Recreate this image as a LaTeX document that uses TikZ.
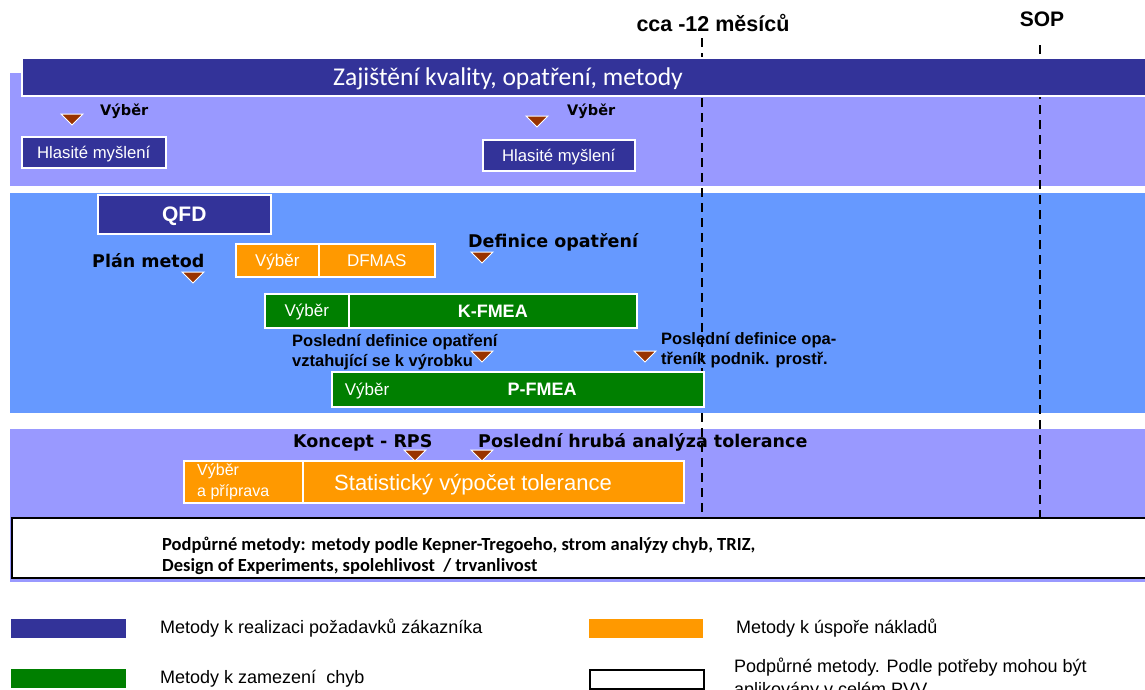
\documentclass[tikz,border=0pt]{standalone}
\usepackage{fontspec}
\setmainfont{Liberation Sans}
\newfontfamily\heavy{DejaVu Sans}
\newfontfamily\calfont{Carlito}
\definecolor{dblue}{HTML}{333399}
\definecolor{lpurple}{HTML}{9999FF}
\definecolor{lblue}{HTML}{6699FF}
\definecolor{orng}{HTML}{FF9900}
\definecolor{grn}{HTML}{007F00}
\definecolor{brwn}{HTML}{993300}
\newcommand{\fs}[1]{\fontsize{#1}{#1}\selectfont}
\tikzset{
  band/.style={draw=white, line width=1pt},
  bx/.style={draw=white, line width=1.5pt, fill=#1, inner sep=0pt, anchor=north west, text=white},
  cap/.style={text height=#1pt, text depth=0pt},
  lbl/.style={inner sep=0pt, anchor=base west, font=\heavy\bfseries\fs{17.5}},
  txt/.style={inner sep=0pt, anchor=base west, font=\bfseries\fs{16.5}, align=left},
  wtxt/.style={inner sep=0pt, text=white},
  tri/.style={fill=brwn, draw=white, line width=1pt, line join=miter},
  dl/.style={dash pattern=on 9pt off 6pt, line width=1.3pt},
  leg/.style={inner sep=0pt, anchor=base west, font=\fs{18}, align=left},
}
\newcommand{\tri}[1]{\draw[tri] (#1) ++(-11,0) -- ++(22,0) -- ++(-11,11) -- cycle;}
\begin{document}
\begin{tikzpicture}[x=1pt,y=-1pt]
\useasboundingbox (0,0) rectangle (1145,689);
\clip (0,0) rectangle (1145,689);
\fill[white] (0,0) rectangle (1145,689);
% bands
\draw[band, fill=lpurple] (9,72) rectangle (1150,186);
\draw[band, fill=lblue] (9,192) rectangle (1150,413);
\draw[band, fill=lpurple] (9,428) rectangle (1150,582);
% dashed lines
\coordinate (d1a) at (702,38); \coordinate (d1b) at (702,515);
\coordinate (d2a) at (1040,45); \coordinate (d2b) at (1040,520);
\draw[dl] (d1a) -- (d1b);
\draw[dl] (d2a) -- (d2b);
\node[inner sep=0pt, anchor=base, font=\bfseries\fs{21.5}] (cca) at (713,31) {cca -12 měsíců};
\node[inner sep=0pt, anchor=base, font=\bfseries\fs{21}] (sop) at (1042,26) {SOP};
% top band
\node[bx=dblue, minimum width=1130pt, minimum height=38pt] (top) at (21,57) {};
\node[wtxt, cap=16.5, font=\calfont\fs{25.6}] (toptxt) at (508,77) {Zajištění kvality, opatření, metody};
% top section
\coordinate (t1) at (72,114); \tri{t1}
\node[lbl, font=\heavy\bfseries\fs{14.5}] (v1) at (100,115) {Výběr};
\node[bx=dblue, cap=12, minimum width=144pt, minimum height=31pt, font=\fs{16.7}] (h1) at (21,136) {Hlasité myšlení};
\coordinate (t2) at (537,116); \tri{t2}
\node[lbl, font=\heavy\bfseries\fs{14.5}] (v2) at (567,115) {Výběr};
\node[bx=dblue, cap=12, minimum width=152pt, minimum height=31pt, font=\fs{16.7}] (h2) at (482,139) {Hlasité myšlení};
% blue section
\node[bx=dblue, cap=15, minimum width=173pt, minimum height=39pt, font=\bfseries\fs{21}] (qfd) at (97,194) {QFD};
\node[lbl] (plan) at (92,267) {Plán metod};
\coordinate (t3) at (193,272); \tri{t3}
\node[bx=orng, cap=12.2, minimum width=83pt, minimum height=33pt, font=\fs{17}] (ov) at (235,243) {Výběr};
\node[bx=orng, cap=12.2, minimum width=116pt, minimum height=33pt, font=\fs{17}] (dfm) at (318,243) {DFMAS};
\node[lbl] (defo) at (468,247) {Definice opatření};
\coordinate (t4) at (482,252); \tri{t4}
\node[bx=grn, cap=12.2, minimum width=84pt, minimum height=34pt, font=\fs{17}] (gv) at (264,293) {Výběr};
\node[bx=grn, cap=12.9, minimum width=288pt, minimum height=34pt, font=\bfseries\fs{18}] (kf) at (348,293) {K-FMEA};
\node[txt] (pd1) at (292,366) {Poslední definice opatření\\[3.5pt]vztahující se k výrobku};
\coordinate (t5) at (482,351); \tri{t5}
\coordinate (t6) at (645,351); \tri{t6}
\node[txt] (pd2) at (661,364) {Poslední definice opa-\\[3.5pt]třeník podnik. prostř.};
\node[bx=grn, minimum width=372pt, minimum height=35pt] (pf) at (331,371) {};
\node[wtxt, cap=12.2, font=\fs{17}] (pfv) at (367,389) {Výběr};
\node[wtxt, cap=12.9, font=\bfseries\fs{18}] (pft) at (542,389) {P-FMEA};
% bottom section
\node[lbl] (konc) at (293,447) {Koncept - RPS};
\node[lbl] (hrub) at (478,447) {Poslední hrubá analýza tolerance};
\node[bx=orng, minimum width=119pt, minimum height=42pt] (sv) at (183,460) {};
\node[bx=orng, minimum width=381pt, minimum height=42pt] (st) at (302,460) {};
\coordinate (t7) at (415,450); \tri{t7}
\coordinate (t8) at (482,450); \tri{t8}
\node[inner sep=0pt, text=white, anchor=base west, align=left, font=\fs{16}] (svt) at (197,496) {Výběr\\[5pt]a příprava};
\node[wtxt, cap=15.8, font=\fs{22}] (stt) at (473,483) {Statistický výpočet tolerance};
\node[draw=black, line width=2pt, fill=white, minimum width=1145pt, minimum height=60pt, anchor=north west, inner sep=0pt] (sup) at (11,517) {};
\node[inner sep=0pt, anchor=base west, align=left, font=\calfont\bfseries\fs{18.5}] (supt) at (162,571) {Podpůrné metody: metody podle Kepner-Tregoeho, strom analýzy chyb, TRIZ,\\[2pt]Design of Experiments, spolehlivost~ / trvanlivost};
% legend
\node[fill=dblue, minimum width=115pt, minimum height=19pt, anchor=north west, inner sep=0pt] (lg1) at (11,619) {};
\node[leg] (lt1) at (160,633) {Metody k realizaci požadavků zákazníka};
\node[fill=orng, minimum width=114pt, minimum height=19pt, anchor=north west, inner sep=0pt] (lg2) at (589,619) {};
\node[leg] (lt2) at (736,633) {Metody k úspoře nákladů};
\node[fill=grn, minimum width=115pt, minimum height=19pt, anchor=north west, inner sep=0pt] (lg3) at (11,669) {};
\node[leg] (lt3) at (160,683) {Metody k zamezení~ chyb};
\node[draw=black, line width=2pt, fill=white, minimum width=114pt, minimum height=19pt, anchor=north west, inner sep=0pt] (lg4) at (589,669) {};
\node[leg] (lt4) at (734,695) {Podpůrné metody. Podle potřeby mohou být\\[5pt]aplikovány v celém PVV};
\end{tikzpicture}
\end{document}
